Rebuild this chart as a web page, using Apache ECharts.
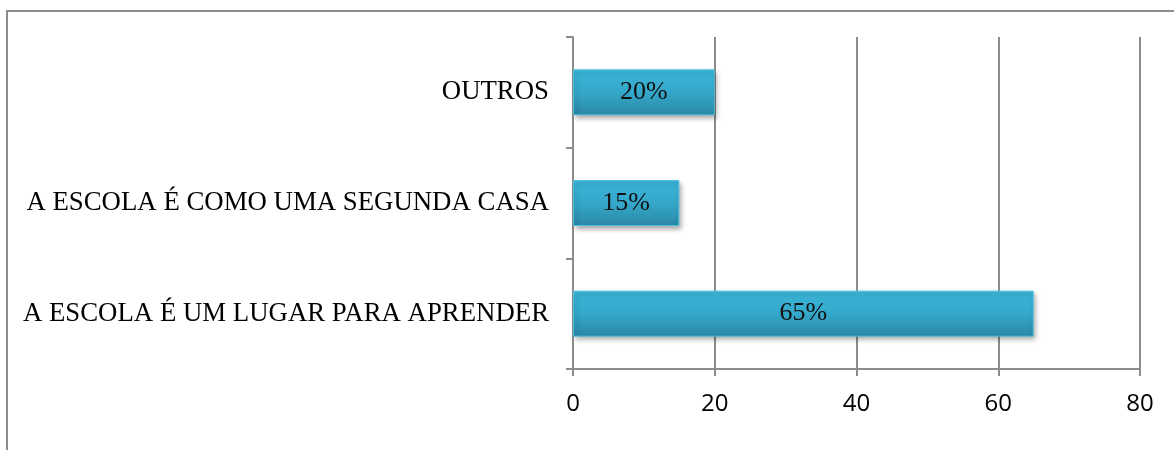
<!DOCTYPE html>
<html>
<head>
<meta charset="utf-8">
<script src="https://cdn.jsdelivr.net/npm/echarts@6/dist/echarts.min.js"></script>
<style>
html,body{margin:0;padding:0;background:#fff;}
#frame{position:absolute;left:6px;top:10px;width:1180px;height:460px;border-left:2px solid #8c8c8c;border-top:2px solid #8c8c8c;box-sizing:border-box;}
#chart{position:absolute;left:0;top:0;width:1174px;height:450px;}
</style>
</head>
<body>
<div id="frame"></div>
<div id="chart"></div>
<script>
const categories = ['A ESCOLA É UM LUGAR PARA APRENDER', 'A ESCOLA É COMO UMA SEGUNDA CASA', 'OUTROS'];
const values = [65, 15, 20];
const valueLabels = ['65%', '15%', '20%'];
const xTicks = [0, 20, 40, 60, 80];

const chart = echarts.init(document.getElementById('chart'));
chart.setOption({
  animation: false,
  grid: {left: 573, right: 34, top: 37, bottom: 81},
  xAxis: {
    type: 'value', min: xTicks[0], max: xTicks[xTicks.length - 1], interval: 20,
    axisLine: {show: true, onZero: false, lineStyle: {color: '#8c8c8c', width: 2}},
    axisTick: {show: true, length: 7, lineStyle: {color: '#8c8c8c', width: 2}},
    splitLine: {show: true, lineStyle: {color: '#8c8c8c', width: 2}},
    axisLabel: {color: '#000', fontFamily: '"Open Sans", sans-serif', fontSize: 24, margin: 23}
  },
  yAxis: {
    type: 'category', data: categories,
    axisLine: {show: true, lineStyle: {color: '#8c8c8c', width: 2}},
    axisTick: {show: true, length: 7, lineStyle: {color: '#8c8c8c', width: 2}},
    axisLabel: {color: '#000', fontFamily: '"Liberation Serif", "Times New Roman", serif', fontSize: 26.8, margin: 24, padding: [3, 0, 0, 0]}
  },
  series: [{
    type: 'bar',
    data: values,
    barWidth: 46,
    itemStyle: {
      color: new echarts.graphic.LinearGradient(0, 0, 0, 1, [
        {offset: 0, color: '#3bb6da'},
        {offset: 0.5, color: '#34a8cb'},
        {offset: 1, color: '#2a88a4'}
      ]),
      borderColor: '#4fc0e0', borderWidth: 1,
      shadowColor: 'rgba(0,0,0,0.35)', shadowBlur: 5, shadowOffsetX: 2, shadowOffsetY: 3
    },
    label: {
      show: true, position: 'inside', color: '#111',
      fontFamily: '"Liberation Serif", "Times New Roman", serif', fontSize: 26,
      formatter: p => valueLabels[p.dataIndex]
    }
  }]
});
</script>
</body>
</html>
